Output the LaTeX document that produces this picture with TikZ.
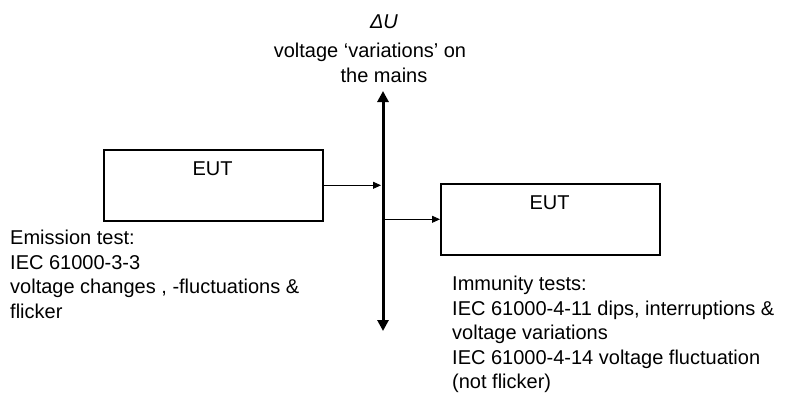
\documentclass[tikz,border=0pt]{standalone}
\usepackage{fontspec}
\setmainfont{Liberation Sans}
\usetikzlibrary{arrows.meta}
\begin{document}
\begin{tikzpicture}[x=1pt,y=-1pt,
  eut/.style={draw, line width=1.6pt, minimum width=219pt, minimum height=71pt, anchor=north west, inner sep=0pt},
  lbl/.style={font=\fontsize{20}{24.5}\selectfont, inner sep=0pt},
  conn/.style={line width=0.8pt, -{Triangle[width=7pt,length=8pt]}},
  mains/.style={line width=3pt, {Triangle[width=11pt,length=11pt]}-{Triangle[width=11pt,length=11pt]}}]
\useasboundingbox (0,0) rectangle (797,396);
\node[eut] (b1) at (103,149) {};
\node[lbl] (e1) at (212.5,169) {EUT};
\node[eut] (b2) at (440,183) {};
\node[lbl] (e2) at (549.5,203) {EUT};
\coordinate (top) at (383,91);
\coordinate (bot) at (383,331);
\draw[mains] (bot) -- (top);
\draw[conn] (b1.east) -- ([xshift=-2pt]b1.east -| top);
\draw[conn] ([xshift=1.5pt]b2.west -| top) -- (b2.west);
\node[lbl, anchor=base] (du) at (384,29) {\itshape ΔU};
\node[lbl, anchor=base] (v1) at (370,57) {voltage ‘variations’ on};
\node[lbl, anchor=base] (v2) at (384,82) {the mains};
\node[lbl, anchor=north west, align=left] (em) at (10,230) {Emission test:\\IEC 61000-3-3\\voltage changes , -fluctuations \&\\flicker};
\node[lbl, anchor=north west, align=left] (im) at (452,276) {Immunity tests:\\IEC 61000-4-11 dips, interruptions \&\\voltage variations\\IEC 61000-4-14 voltage fluctuation\\(not flicker)};
\end{tikzpicture}
\end{document}
